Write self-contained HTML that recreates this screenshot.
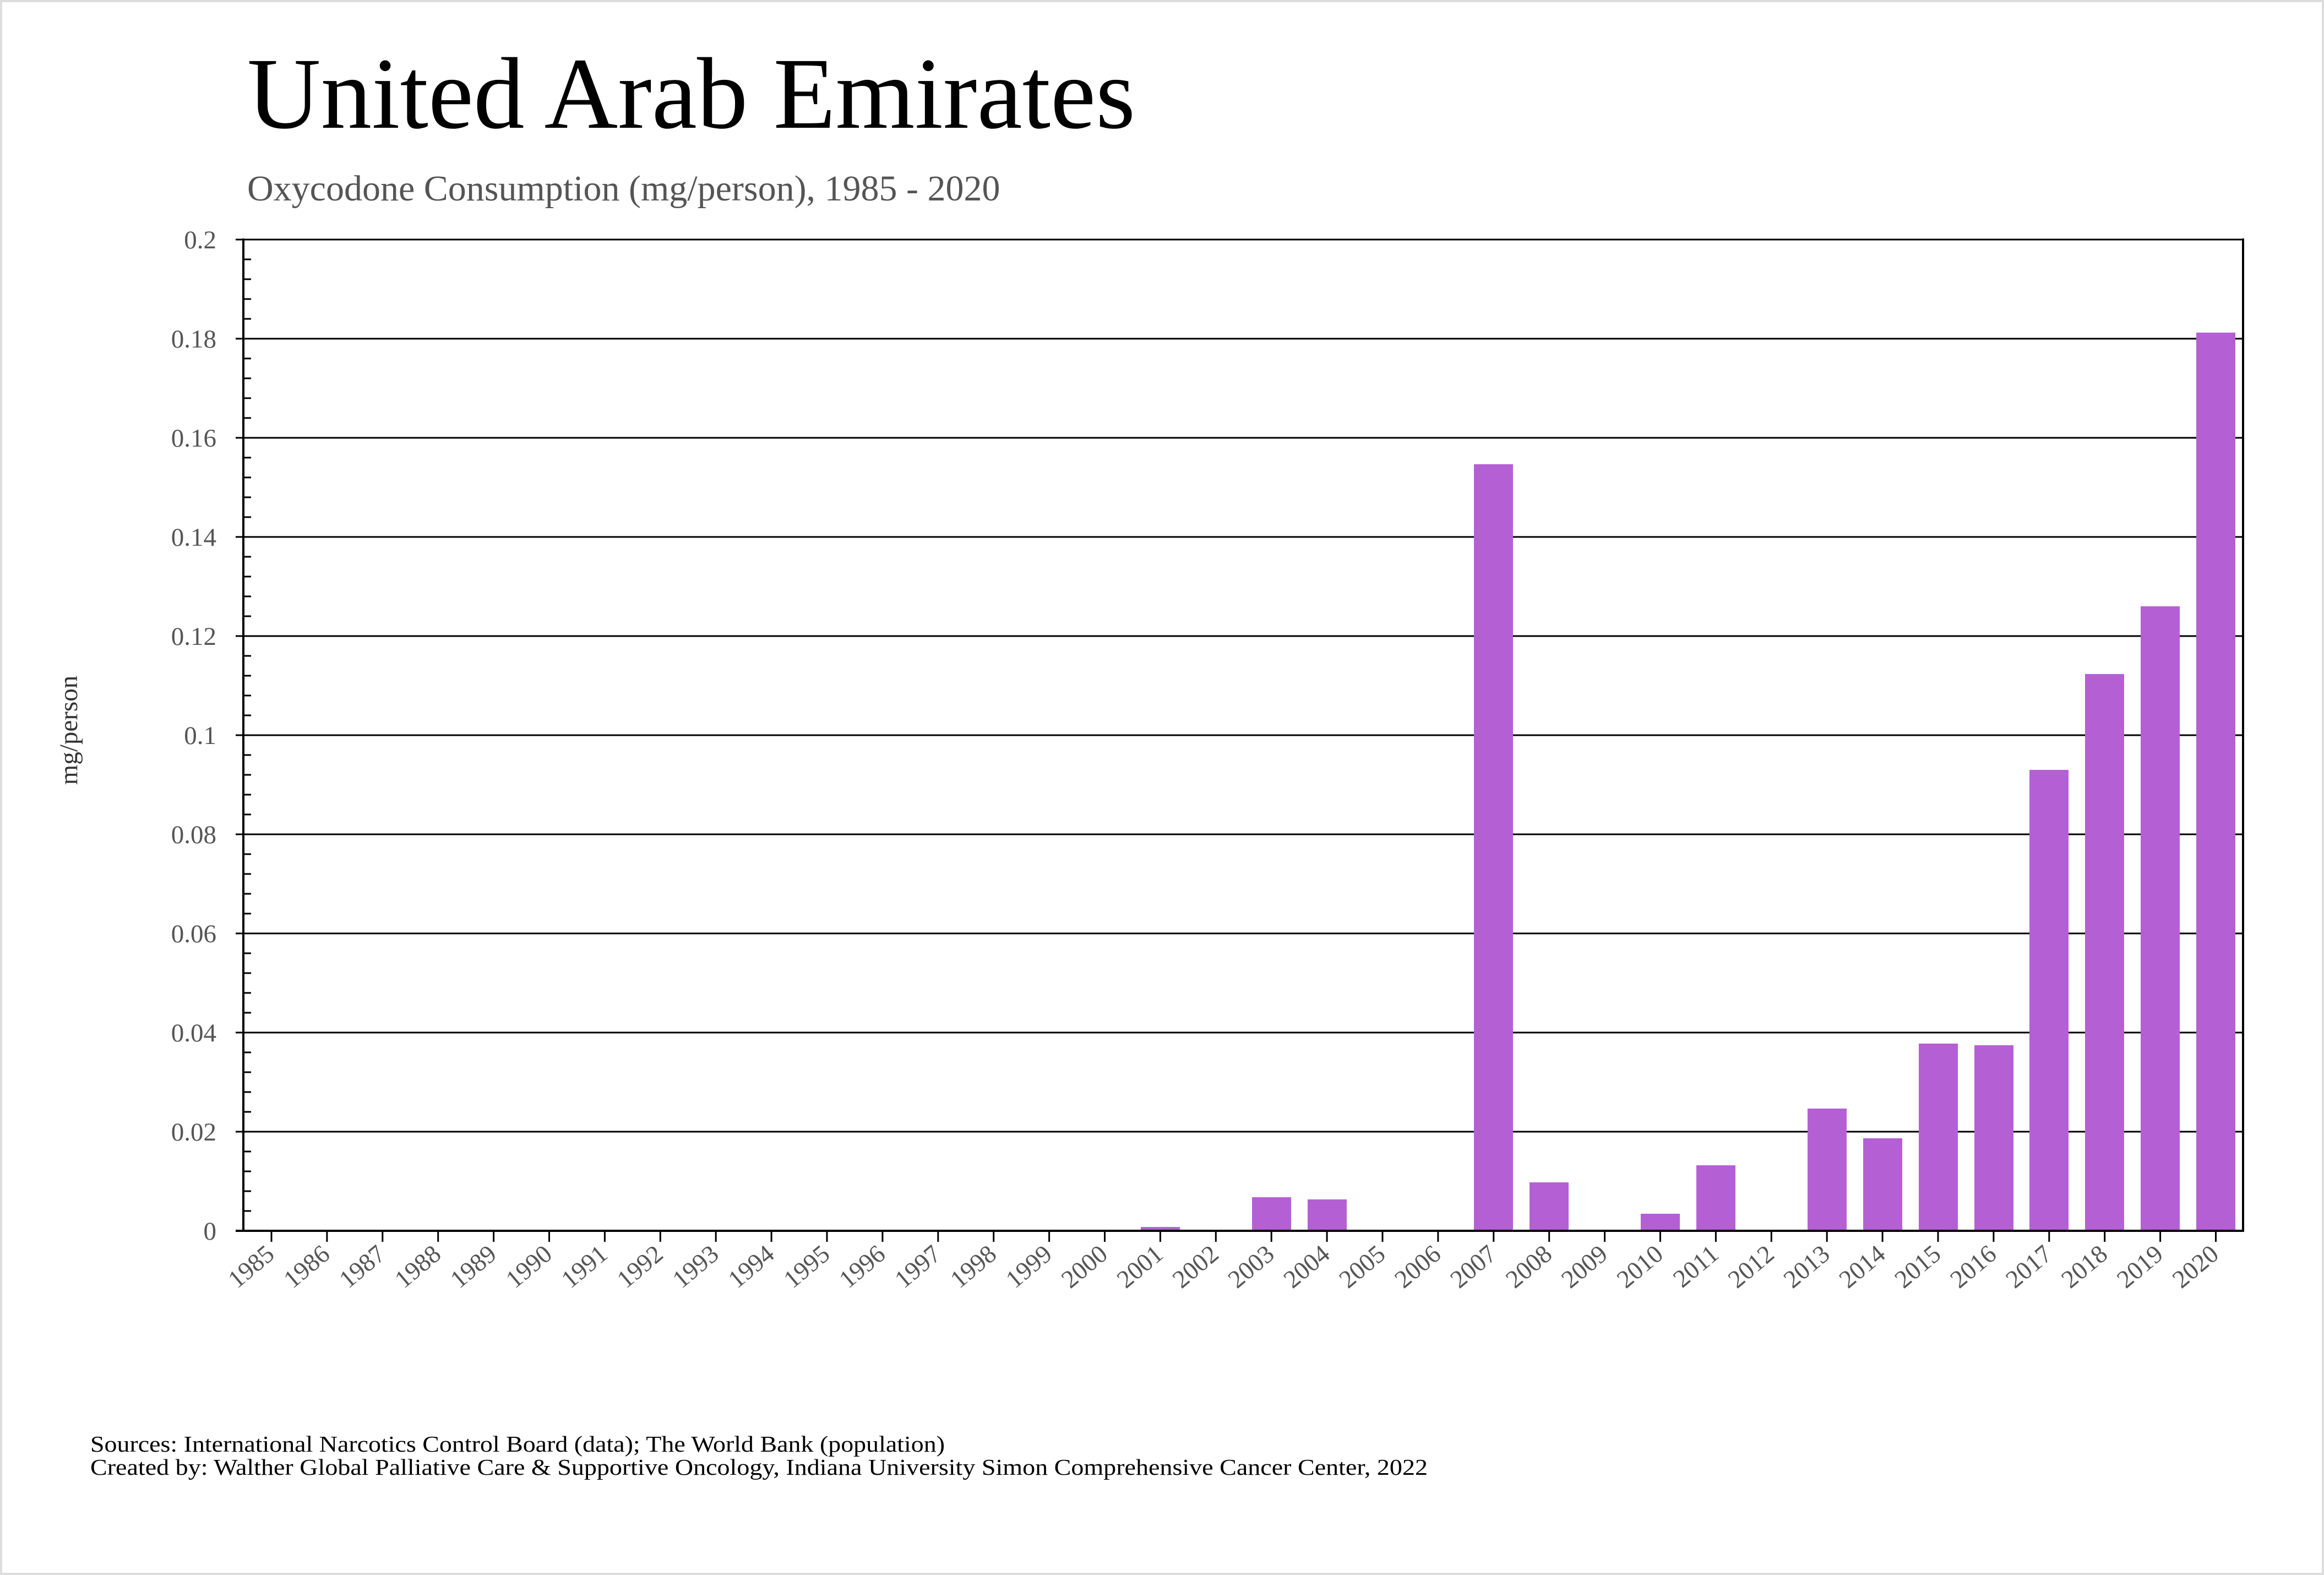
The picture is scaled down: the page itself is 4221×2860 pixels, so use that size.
<!DOCTYPE html>
<html><head><style>html,body{margin:0;padding:0;background:#fff}svg{display:block}</style></head>
<body>
<svg width="4221" height="2860" viewBox="0 0 4221 2860" xmlns="http://www.w3.org/2000/svg" font-family="Liberation Serif, serif">
<rect x="2" y="2" width="4217" height="2856" fill="#fff" stroke="#ddd" stroke-width="4"/>
<text x="449" y="232" font-size="185" fill="#000">United Arab Emirates</text>
<text x="449" y="364" font-size="66" fill="#555">Oxycodone Consumption (mg/person), 1985 - 2020</text>
<text transform="translate(140,1326) rotate(-90)" text-anchor="middle" font-size="47" fill="#333">mg/person</text>
<g id="grid" stroke="#000" stroke-width="3">
<line x1="428" y1="435" x2="4075" y2="435"/>
<line x1="428" y1="615" x2="4075" y2="615"/>
<line x1="428" y1="795" x2="4075" y2="795"/>
<line x1="428" y1="975" x2="4075" y2="975"/>
<line x1="428" y1="1155" x2="4075" y2="1155"/>
<line x1="428" y1="1335" x2="4075" y2="1335"/>
<line x1="428" y1="1515" x2="4075" y2="1515"/>
<line x1="428" y1="1695" x2="4075" y2="1695"/>
<line x1="428" y1="1875" x2="4075" y2="1875"/>
<line x1="428" y1="2055" x2="4075" y2="2055"/>
</g>
<g fill="#b460d4">
<rect x="2072" y="2228" width="71" height="7"/>
<rect x="2274" y="2174" width="71" height="61"/>
<rect x="2375" y="2178" width="71" height="57"/>
<rect x="2677" y="843" width="71" height="1392"/>
<rect x="2778" y="2147" width="71" height="88"/>
<rect x="2980" y="2204" width="71" height="31"/>
<rect x="3081" y="2116" width="71" height="119"/>
<rect x="3283" y="2013" width="71" height="222"/>
<rect x="3384" y="2067" width="71" height="168"/>
<rect x="3485" y="1895" width="71" height="340"/>
<rect x="3586" y="1898" width="71" height="337"/>
<rect x="3686" y="1398" width="71" height="837"/>
<rect x="3787" y="1224" width="71" height="1011"/>
<rect x="3888" y="1101" width="71" height="1134"/>
<rect x="3989" y="604" width="71" height="1631"/>
</g>
<g stroke="#000" stroke-width="4">
<line x1="442" y1="433" x2="442" y2="2237"/>
<line x1="4074" y1="433" x2="4074" y2="2237"/>
<line x1="428" y1="2235" x2="4076" y2="2235"/>
</g>
<g id="minor" stroke="#000" stroke-width="3"></g>
<g id="xt" stroke="#000" stroke-width="3"></g>
<g id="yl" font-size="47" fill="#555" text-anchor="end"></g>
<g id="xl" font-size="46" fill="#555" text-anchor="end"></g>
<text x="164" y="2636" font-size="41" fill="#000" textLength="1552" lengthAdjust="spacingAndGlyphs">Sources: International Narcotics Control Board (data); The World Bank (population)</text>
<text x="164" y="2678" font-size="41" fill="#000" textLength="2429" lengthAdjust="spacingAndGlyphs">Created by: Walther Global Palliative Care &amp; Supportive Oncology, Indiana University Simon Comprehensive Cancer Center, 2022</text>
<script>
var ns="http://www.w3.org/2000/svg";
function el(p,t,a,txt){var e=document.createElementNS(ns,t);for(var k in a)e.setAttribute(k,a[k]);if(txt)e.textContent=txt;document.getElementById(p).appendChild(e);}
for(var i=0;i<50;i++){if(i%5==0)continue;var y=2235-i*36;el("minor","line",{x1:442,y1:y,x2:456,y2:y});}
var labs=["0","0.02","0.04","0.06","0.08","0.1","0.12","0.14","0.16","0.18","0.2"];
for(var i=0;i<=10;i++){el("yl","text",{x:393,y:2235-i*180+16},labs[i]);}
for(var i=0;i<36;i++){var x=493+i*100.9;el("xt","line",{x1:x,y1:2235,x2:x,y2:2255});
el("xl","text",{transform:"translate("+(x+8)+",2282) rotate(-40)"},String(1985+i));}
</script>
</svg>
</body></html>
